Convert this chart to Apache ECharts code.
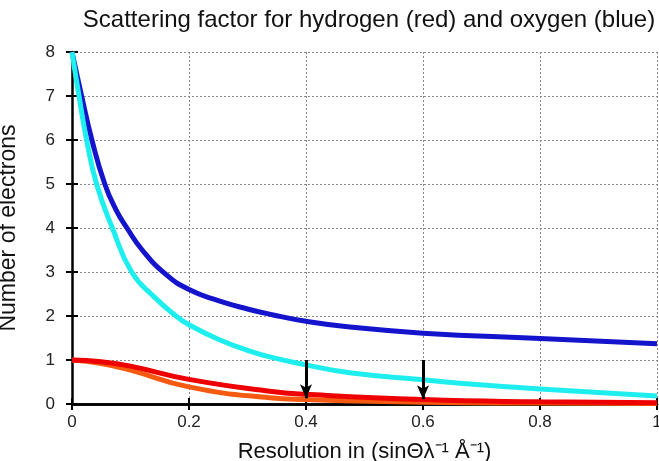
<!DOCTYPE html>
<html>
<head>
<meta charset="utf-8">
<title>Scattering factor</title>
<style>
  html, body { margin: 0; padding: 0; background: #fff; }
  #chart { width: 659px; height: 461px; }
</style>
</head>
<body>
<div id="chart"></div>
<script src="https://cdn.jsdelivr.net/npm/echarts@6/dist/echarts.min.js"></script>
<script>
// values (x = sin(theta)/lambda, y = electrons)
var oxyX  = [0, 0.0165, 0.034, 0.056, 0.075, 0.094, 0.12, 0.16, 0.2, 0.25, 0.3, 0.342, 0.4, 0.475, 0.6, 0.8, 1.0];
var oxyY  = [8, 7, 6, 5, 4.42, 4, 3.5, 2.95, 2.6, 2.35, 2.16, 2.03, 1.88, 1.75, 1.61, 1.49, 1.37];
var oxy2X = [0, 0.012, 0.025, 0.042, 0.069, 0.102, 0.14, 0.178, 0.2, 0.25, 0.3, 0.338, 0.4, 0.475, 0.6, 0.663, 0.8, 1.0];
var oxy2Y = [8, 7, 6, 5, 4, 3, 2.44, 2, 1.8, 1.47, 1.22, 1.07, 0.89, 0.71, 0.55, 0.47, 0.34, 0.18];
var hydX  = [0, 0.05, 0.1, 0.2, 0.338, 0.4, 0.6, 0.8, 1.0];
var hydY  = [1.0, 0.96, 0.86, 0.56, 0.29, 0.22, 0.1, 0.05, 0.03];
var hyd2X = [0, 0.05, 0.1, 0.2, 0.338, 0.4, 0.6, 0.8, 1.0];
var hyd2Y = [1.0, 0.92, 0.77, 0.39, 0.14, 0.1, 0.04, 0.02, 0.01];
// arrows: x position, top, tip
var arrowX   = [0.4, 0.6];
var arrowTop = [1.0, 1.0];
var arrowTip = [0.13, 0.11];

function pairs(xs, ys) {
  var out = [];
  for (var i = 0; i < xs.length; i++) out.push([xs[i], ys[i]]);
  return out;
}

var chart = echarts.init(document.getElementById('chart'));
var font = '"Liberation Sans", Arial, sans-serif';

function curve(name, xs, ys, color) {
  return {
    name: name,
    type: 'line',
    data: pairs(xs, ys),
    smooth: 0.5,
    showSymbol: false,
    silent: true,
    lineStyle: { color: color, width: 5 }
  };
}

var arrows = [];
for (var i = 0; i < arrowX.length; i++) {
  arrows.push([{ coord: [arrowX[i], arrowTop[i]] }, { coord: [arrowX[i], arrowTip[i]] }]);
}

var axisLine = { show: true, lineStyle: { color: '#000', width: 2.5 } };
var tick = { show: true, inside: true, length: 6, lineStyle: { color: '#000', width: 2 } };
var dots = { show: true, lineStyle: { color: '#888', type: [2, 2], width: 1 } };

chart.setOption({
  animation: false,
  title: {
    text: 'Scattering factor for hydrogen (red) and oxygen (blue)',
    left: 364, textAlign: 'center', top: 3,
    textStyle: { fontFamily: font, fontSize: 24, fontWeight: 'normal', color: '#111' }
  },
  grid: { left: 72, right: 2, top: 52, bottom: 57, outerBoundsMode: 'none', containLabel: false },
  xAxis: [{
    type: 'value', min: 0, max: 1, interval: 0.2,
    name: 'Resolution in (sinΘλ⁻¹ Å⁻¹)',
    nameLocation: 'middle', nameGap: 37,
    nameTextStyle: { fontFamily: font, fontSize: 22, color: '#111' },
    axisLine: axisLine, axisTick: tick,
    axisLabel: { fontFamily: font, fontSize: 17, color: '#222', margin: 10 },
    splitLine: dots
  }, {
    type: 'value', min: 0, max: 1, interval: 0.2, position: 'top',
    axisLine: axisLine, axisTick: tick, axisLabel: { show: false }, splitLine: { show: false }
  }],
  yAxis: [{
    type: 'value', min: 0, max: 8, interval: 1,
    name: 'Number of electrons',
    nameLocation: 'middle', nameGap: 52,
    nameTextStyle: { fontFamily: font, fontSize: 23, color: '#111' },
    axisLine: axisLine, axisTick: tick,
    axisLabel: { fontFamily: font, fontSize: 17, color: '#222', margin: 17 },
    splitLine: dots
  }, {
    type: 'value', min: 0, max: 8, interval: 1, position: 'right',
    axisLine: { show: false }, axisTick: tick, axisLabel: { show: false }, splitLine: { show: false }
  }],
  series: [
    curve('oxygen', oxyX, oxyY, '#1414cc'),
    curve('oxygen2', oxy2X, oxy2Y, '#1eeeee'),
    curve('hydrogen2', hyd2X, hyd2Y, '#f55a10'),
    curve('hydrogen', hydX, hydY, '#ee0000'),
    {
      type: 'line', data: [], silent: true,
      markLine: {
        silent: true,
        symbol: ['none', 'arrow'],
        symbolSize: [9, 14],
        label: { show: false },
        lineStyle: { color: '#000', width: 3, type: 'solid' },
        data: arrows
      }
    }
  ]
});
</script>
</body>
</html>
